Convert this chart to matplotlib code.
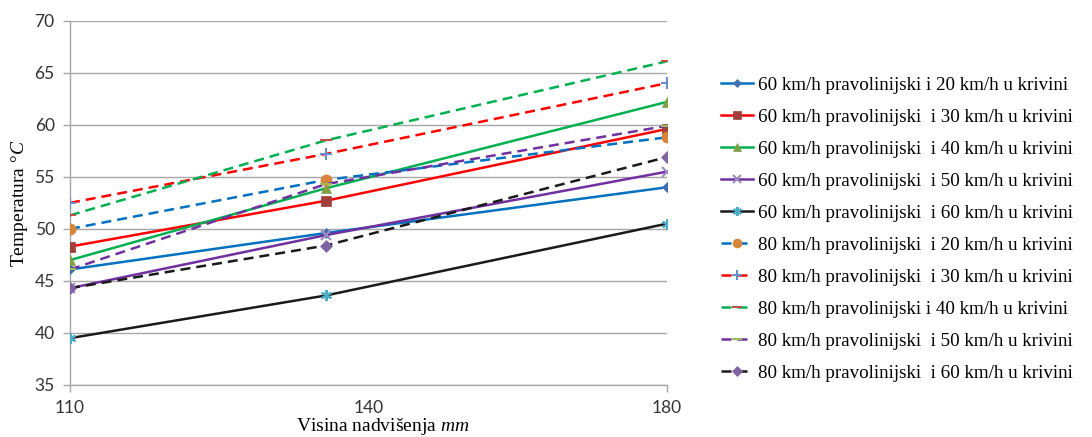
import matplotlib
matplotlib.use("Agg")
import matplotlib.pyplot as plt

# heights (mm) where temperatures were measured
heights = [110, 140, 180]

# axis ticks as drawn in the original (middle label sits at the axis midpoint)
x_tick_pos = [110, 145, 180]
x_tick_labels = ["110", "140", "180"]
y_ticks = [35, 40, 45, 50, 55, 60, 65, 70]

labels = [
    "60 km/h pravolinijski i 20 km/h u krivini",
    "60 km/h pravolinijski  i 30 km/h u krivini",
    "60 km/h pravolinijski  i 40 km/h u krivini",
    "60 km/h pravolinijski  i 50 km/h u krivini",
    "60 km/h pravolinijski  i 60 km/h u krivini",
    "80 km/h pravolinijski  i 20 km/h u krivini",
    "80 km/h pravolinijski  i 30 km/h u krivini",
    "80 km/h pravolinijski i 40 km/h u krivini",
    "80 km/h pravolinijski  i 50 km/h u krivini",
    "80 km/h pravolinijski  i 60 km/h u krivini",
]

t_60_20 = [46.1, 49.6, 54.0]
t_60_30 = [48.3, 52.7, 59.6]
t_60_40 = [47.0, 53.9, 62.2]
t_60_50 = [44.3, 49.4, 55.5]
t_60_60 = [39.5, 43.6, 50.5]
t_80_20 = [50.0, 54.7, 58.8]
t_80_30 = [52.5, 57.2, 64.0]
t_80_40 = [51.3, 58.5, 66.1]
t_80_50 = [46.1, 54.3, 59.9]
t_80_60 = [44.3, 48.4, 56.9]

series = [t_60_20, t_60_30, t_60_40, t_60_50, t_60_60,
          t_80_20, t_80_30, t_80_40, t_80_50, t_80_60]

# (line colour, dashed?, marker, marker face, marker size)
styles = [
    ("#0070C0", False, "D", "#3F6FAF", 5),
    ("#FF0000", False, "s", "#A0403C", 7),
    ("#00B050", False, "^", "#7F9F45", 7),
    ("#7030A0", False, "x", "#9A8CC0", 7),
    ("#1A1A1A", False, (6, 2, 0), "#4BACC6", 8),
    ("#0070C0", True, "o", "#D8843A", 8),
    ("#FF0000", True, "+", "#6A8CC8", 9),
    ("#00B050", True, "_", "#C0504D", 9),
    ("#7030A0", True, "_", "#9BBB59", 9),
    ("#1A1A1A", True, "D", "#8064A2", 6),
]

serif = "Liberation Serif"
plt.rcParams["mathtext.fontset"] = "custom"
plt.rcParams["mathtext.rm"] = serif
plt.rcParams["mathtext.it"] = serif + ":italic"

fig = plt.figure(figsize=(10.92, 4.37), dpi=100)
ax = fig.add_axes([0.0641, 0.119, 0.5467, 0.8336])

for vals, lab, (col, dashed, mk, mfc, ms) in zip(series, labels, styles):
    ls = (0, (4, 2.4)) if dashed else "-"
    ax.plot(heights, vals, color=col, lw=1.8, linestyle=ls, marker=mk,
            markersize=ms, markerfacecolor=mfc, markeredgecolor=mfc,
            markeredgewidth=1.5 if mk in ("x", "+", "_", (6, 2, 0)) else 0.5,
            label=lab, zorder=3)

ax.set_xlim(110, 180)
ax.set_ylim(35, 70)
ax.set_yticks(y_ticks)
ax.set_xticks(x_tick_pos)
ax.set_xticklabels(x_tick_labels)
ax.xaxis.get_major_ticks()[1].tick1line.set_visible(False)

ax.grid(axis="y", color="#A6A6A6", lw=1)
for s in ["top", "right"]:
    ax.spines[s].set_visible(False)
for s in ["left", "bottom"]:
    ax.spines[s].set_color("#A6A6A6")
    ax.spines[s].set_linewidth(1)
ax.tick_params(colors="#A6A6A6", length=5, width=1, pad=6,
               labelcolor="#333333", labelsize=12.5)
for t in ax.get_xticklabels() + ax.get_yticklabels():
    t.set_family("Lato")

ax.set_ylabel(r"Temperatura $\mathit{°C}$", family=serif,
              fontsize=14, labelpad=3)
ax.set_xlabel(r"Visina nadvišenja $\mathit{mm}$", family=serif,
              fontsize=14, labelpad=1)
ax.xaxis.set_label_coords(0.523, -0.085)

leg = fig.legend(loc="center left", bbox_to_anchor=(0.653, 0.476),
                 frameon=False, prop={"family": serif, "size": 13.7},
                 handlelength=1.68, handletextpad=0.26, labelspacing=0.77,
                 markerscale=0.8, borderaxespad=0)

fig.savefig("out.png", dpi=100)
